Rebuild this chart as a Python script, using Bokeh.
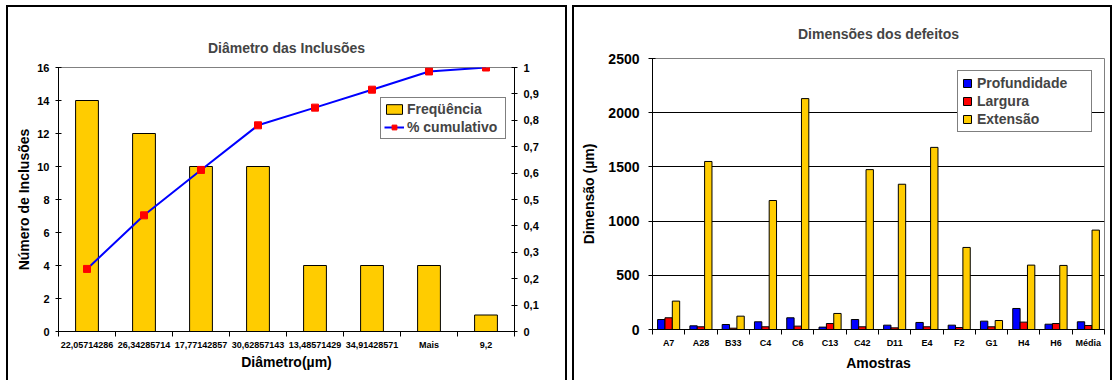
from bokeh.plotting import figure
from bokeh.models import (ColumnDataSource, FixedTicker, LinearAxis, Range1d,
                          Legend, LegendItem, Spacer)
from bokeh.layouts import row, column
from bokeh.transform import dodge
from bokeh.embed import file_html
from bokeh.resources import INLINE

FONT = "Liberation Sans"

# ---------------- data: left chart ----------------
diam_labels = ["22,05714286", "26,34285714", "17,77142857", "30,62857143",
               "13,48571429", "34,91428571", "Mais", "9,2"]
freq = [14, 12, 10, 10, 4, 4, 4, 1]
cum = [0.237, 0.44, 0.612, 0.781, 0.848, 0.916, 0.985, 1.0]
freq_ticks = [0, 2, 4, 6, 8, 10, 12, 14, 16]
cum_ticks = [0, 0.1, 0.2, 0.3, 0.4, 0.5, 0.6, 0.7, 0.8, 0.9, 1]
cum_tick_labels = ["0", "0,1", "0,2", "0,3", "0,4", "0,5", "0,6", "0,7",
                   "0,8", "0,9", "1"]

# ---------------- data: right chart ----------------
amostras = ["A7", "A28", "B33", "C4", "C6", "C13", "C42", "D11", "E4", "F2",
            "G1", "H4", "H6", "Média"]
profundidade = [92, 34, 46, 71, 108, 22, 92, 40, 65, 40, 77, 194, 49, 71]
largura = [108, 25, 12, 25, 31, 55, 25, 15, 25, 18, 25, 68, 55, 37]
extensao = [262, 1550, 123, 1190, 2130, 148, 1475, 1340, 1680, 757, 83, 594,
            591, 917]
dim_ticks = [0, 500, 1000, 1500, 2000, 2500]

YELLOW = "#FFCC00"
BLUE = "#0000FF"
RED = "#FF0000"
GRAY = "#808080"

panel_style = {"border-top": "2px solid black", "border-left": "2px solid black",
               "border-right": "2px solid black", "background": "white"}


def style_axis(ax, size):
    ax.major_label_text_font = FONT
    ax.major_label_text_font_style = "bold"
    ax.major_label_text_font_size = size
    ax.major_label_text_color = "black"
    ax.axis_label_text_font = FONT
    ax.axis_label_text_font_style = "bold"
    ax.axis_label_text_font_size = "14px"
    ax.axis_label_text_color = "black"
    ax.axis_line_color = "black"
    ax.major_tick_line_color = "black"
    ax.minor_tick_line_color = "black"


# ================= left chart =================
n1 = len(freq)
x1 = [i + 0.5 for i in range(n1)]
src1 = ColumnDataSource(dict(x=x1, freq=freq, cum=cum, lab=diam_labels))

p1 = figure(width=561, height=375, output_backend="svg", toolbar_location=None,
            x_range=Range1d(0, n1), y_range=Range1d(0, 16),
            min_border_left=50, min_border_right=55, min_border_top=60,
            min_border_bottom=51, styles=panel_style)
p1.extra_y_ranges = {"cum": Range1d(0, 1)}
p1.xgrid.visible = False
p1.ygrid.visible = False
p1.outline_line_color = GRAY
p1.background_fill_color = "white"
p1.border_fill_color = "white"

p1.title.text = "Diâmetro das Inclusões"
p1.title.align = "center"
p1.title.text_font = FONT
p1.title.text_font_size = "14px"
p1.title.text_font_style = "bold"
p1.title.standoff = 24

bars1 = p1.vbar(x="x", top="freq", width=0.4, source=src1, fill_color=YELLOW,
                line_color="black", line_width=1)
ln1 = p1.line(x="x", y="cum", source=src1, y_range_name="cum", line_color=BLUE,
              line_width=2)
sc1 = p1.scatter(x="x", y="cum", source=src1, y_range_name="cum", marker="square",
                 size=7, fill_color=RED, line_color=RED)

xa1 = p1.xaxis[0]
xa1.ticker = FixedTicker(ticks=x1, minor_ticks=list(range(n1 + 1)))
xa1.major_label_overrides = {x: l for x, l in zip(x1, diam_labels)}
xa1.major_tick_out = 0
xa1.major_tick_in = 0
xa1.minor_tick_out = 5
xa1.minor_tick_in = 0
xa1.major_label_standoff = 3
xa1.axis_label = "Diâmetro(µm)"
xa1.axis_label_standoff = 1
style_axis(xa1, "9px")

ya1 = p1.yaxis[0]
ya1.ticker = FixedTicker(ticks=freq_ticks, minor_ticks=[])
ya1.major_tick_out = 3
ya1.major_tick_in = 3
ya1.major_label_standoff = 6
ya1.axis_label = "Número de Inclusões"
ya1.axis_label_standoff = 2
style_axis(ya1, "11px")

ra1 = LinearAxis(y_range_name="cum")
ra1.ticker = FixedTicker(ticks=cum_ticks, minor_ticks=[])
ra1.major_label_overrides = {t: l for t, l in zip(cum_ticks, cum_tick_labels)}
ra1.major_tick_out = 3
ra1.major_tick_in = 3
ra1.major_label_standoff = 6
style_axis(ra1, "11px")
p1.add_layout(ra1, "right")

leg1 = Legend(items=[LegendItem(label="Freqüência", renderers=[bars1]),
                     LegendItem(label="% cumulativo", renderers=[ln1, sc1])],
              location=(322, 192), orientation="vertical")
leg1.label_text_font = FONT
leg1.label_text_font_style = "bold"
leg1.label_text_font_size = "14px"
leg1.border_line_color = "black"
leg1.border_line_width = 1
leg1.background_fill_color = "white"
leg1.background_fill_alpha = 1
leg1.margin = 0
leg1.padding = 3
leg1.spacing = 2
leg1.glyph_width = 20
leg1.glyph_height = 12
leg1.label_height = 16
leg1.label_width = 95
leg1.label_standoff = 3
p1.add_layout(leg1)

# ================= right chart =================
n2 = len(amostras)
x2 = [i + 0.5 for i in range(n2)]
src2 = ColumnDataSource(dict(x=x2, prof=profundidade, larg=largura, ext=extensao))

p2 = figure(width=540, height=375, output_backend="svg", toolbar_location=None,
            x_range=Range1d(0, n2), y_range=Range1d(0, 2500),
            min_border_left=78, min_border_right=10, min_border_top=51,
            min_border_bottom=53, styles=panel_style)
p2.xgrid.visible = False
p2.ygrid.ticker = FixedTicker(ticks=[500, 1000, 1500, 2000])
p2.ygrid.grid_line_color = "black"
p2.ygrid.grid_line_width = 1
p2.outline_line_color = GRAY
p2.background_fill_color = "white"
p2.border_fill_color = "white"

p2.title.text = "Dimensões dos defeitos"
p2.title.align = "center"
p2.title.vertical_align = "middle"
p2.title.offset = -23
p2.title.text_font = FONT
p2.title.text_font_size = "14px"
p2.title.text_font_style = "bold"
p2.title.standoff = 32

bw = 0.228
b_prof = p2.vbar(x=dodge("x", -bw, range=p2.x_range), top="prof", width=bw,
                 source=src2, fill_color=BLUE, line_color="black", line_width=1)
b_larg = p2.vbar(x=dodge("x", 0, range=p2.x_range), top="larg", width=bw,
                 source=src2, fill_color=RED, line_color="black", line_width=1)
b_ext = p2.vbar(x=dodge("x", bw, range=p2.x_range), top="ext", width=bw,
                source=src2, fill_color=YELLOW, line_color="black", line_width=1)

xa2 = p2.xaxis[0]
xa2.ticker = FixedTicker(ticks=x2, minor_ticks=list(range(n2 + 1)))
xa2.major_label_overrides = {x: l for x, l in zip(x2, amostras)}
xa2.major_tick_out = 0
xa2.major_tick_in = 0
xa2.minor_tick_out = 5
xa2.minor_tick_in = 0
xa2.major_label_standoff = 3
xa2.axis_label = "Amostras"
xa2.axis_label_standoff = 4
style_axis(xa2, "9px")

ya2 = p2.yaxis[0]
ya2.ticker = FixedTicker(ticks=dim_ticks, minor_ticks=[])
ya2.major_tick_out = 4
ya2.major_tick_in = 3
ya2.major_label_standoff = 9
ya2.axis_label = "Dimensão (µm)"
ya2.axis_label_standoff = 8
style_axis(ya2, "14px")

leg2 = Legend(items=[LegendItem(label="Profundidade", renderers=[b_prof]),
                     LegendItem(label="Largura", renderers=[b_larg]),
                     LegendItem(label="Extensão", renderers=[b_ext])],
              location=(305, 197), orientation="vertical")
leg2.label_text_font = FONT
leg2.label_text_font_style = "bold"
leg2.label_text_font_size = "14px"
leg2.border_line_color = "black"
leg2.border_line_width = 1
leg2.background_fill_color = "white"
leg2.background_fill_alpha = 1
leg2.margin = 0
leg2.padding = 4
leg2.spacing = 2
leg2.glyph_width = 10
leg2.glyph_height = 10
leg2.label_height = 16
leg2.label_width = 110
leg2.label_standoff = 5
p2.add_layout(leg2)

layout = column(Spacer(height=5),
                row(Spacer(width=6), column(p1), Spacer(width=5), column(p2)))

open("out.html", "w").write(file_html(layout, INLINE))
